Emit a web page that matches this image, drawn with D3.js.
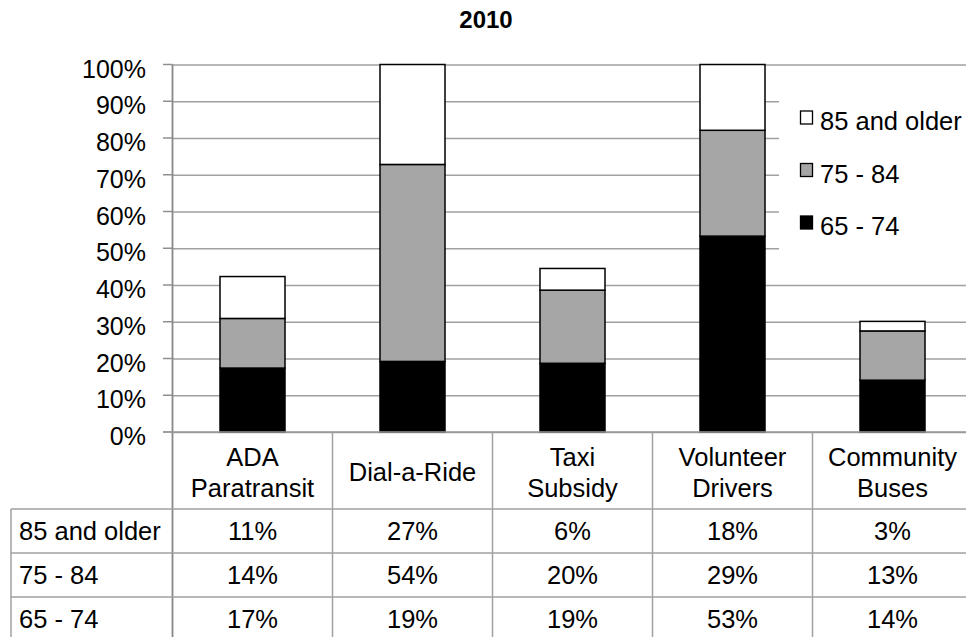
<!DOCTYPE html>
<html>
<head>
<meta charset="utf-8">
<script src="https://cdn.jsdelivr.net/npm/d3@7"></script>
<style>
  body { margin: 0; background: #fff; }
  svg { font-family: "Liberation Sans", Arial, sans-serif; }
</style>
</head>
<body>
<svg id="chart" width="966" height="637"></svg>
<script>
var categories = ["ADA Paratransit", "Dial-a-Ride", "Taxi Subsidy", "Volunteer Drivers", "Community Buses"];
var categoryLines = [["ADA", "Paratransit"], ["Dial-a-Ride"], ["Taxi", "Subsidy"], ["Volunteer", "Drivers"], ["Community", "Buses"]];
var seriesNames = ["65 - 74", "75 - 84", "85 and older"];
var age6574 = [0.174, 0.192, 0.187, 0.533, 0.141];
var age7584 = [0.135, 0.536, 0.199, 0.288, 0.134];
var age85up = [0.114, 0.272, 0.059, 0.179, 0.026];
var yTicks = [0, 0.1, 0.2, 0.3, 0.4, 0.5, 0.6, 0.7, 0.8, 0.9, 1.0];

var svg = d3.select("#chart");
var colours = {"65 - 74": "#000000", "75 - 84": "#a6a6a6", "85 and older": "#ffffff"};
var fontSize = 25.5;

var rows = categories.map((c, i) => ({
  category: c,
  "65 - 74": age6574[i],
  "75 - 84": age7584[i],
  "85 and older": age85up[i]
}));

var stacked = d3.stack().keys(seriesNames)(rows);

var plotLeft = 172.5, plotRight = 972.5;
var xScale = d3.scaleBand().domain(categories).range([plotLeft, plotRight]);
var yScale = d3.scaleLinear().domain([0, 1]).range([432, 64.5]);
var barWidth = 65;

// title
svg.append("text")
  .attr("x", 486)
  .attr("y", 28)
  .attr("text-anchor", "middle")
  .attr("font-weight", "bold")
  .attr("font-size", 24)
  .text("2010");

// gridlines + y axis
var yAxis = d3.axisLeft(yScale)
  .tickValues(yTicks)
  .tickFormat(d3.format(".0%"))
  .tickSize(-(plotRight - plotLeft))
  .tickPadding(0);

var yAxisG = svg.append("g")
  .attr("transform", `translate(${plotLeft},0)`)
  .call(yAxis);
yAxisG.select(".domain").remove();
yAxisG.selectAll(".tick line").attr("stroke", "#a0a0a0").attr("stroke-width", 1.3);
yAxisG.selectAll(".tick text")
  .attr("x", -26.5)
  .attr("dy", "0.5em")
  .attr("font-size", 25)
  .attr("fill", "#000");

// small tick marks left of axis
svg.append("g").selectAll("line").data(yTicks).join("line")
  .attr("x1", 163).attr("x2", plotLeft)
  .attr("y1", d => yScale(d)).attr("y2", d => yScale(d))
  .attr("stroke", "#909090").attr("stroke-width", 1.5);

// legend background covers gridlines
svg.append("rect")
  .attr("x", 779).attr("y", 86)
  .attr("width", 200).attr("height", 178)
  .attr("fill", "#fff");

// bars
svg.append("g").selectAll("g").data(stacked).join("g")
  .attr("fill", d => colours[d.key])
  .selectAll("rect").data(d => d).join("rect")
  .attr("x", d => xScale(d.data.category) + (xScale.bandwidth() - barWidth) / 2)
  .attr("width", barWidth)
  .attr("y", d => yScale(d[1]))
  .attr("height", d => yScale(d[0]) - yScale(d[1]))
  .attr("stroke", "#000")
  .attr("stroke-width", 1.5);

// axis line
svg.append("line")
  .attr("x1", plotLeft).attr("x2", plotLeft)
  .attr("y1", yScale(1)).attr("y2", 637)
  .attr("stroke", "#888").attr("stroke-width", 1.8);
svg.append("line")
  .attr("x1", 163).attr("x2", plotRight)
  .attr("y1", yScale(0)).attr("y2", yScale(0))
  .attr("stroke", "#999").attr("stroke-width", 1.5);

// legend
var legendItems = seriesNames.slice().reverse();
var legend = svg.append("g").selectAll("g").data(legendItems).join("g")
  .attr("transform", (d, i) => `translate(800,${130 + i * 52.5})`);
legend.append("rect")
  .attr("x", 0.5).attr("y", -19)
  .attr("width", 12).attr("height", 13)
  .attr("fill", d => colours[d])
  .attr("stroke", "#000").attr("stroke-width", 1.3);
legend.append("text")
  .attr("x", 20).attr("y", 0)
  .attr("font-size", fontSize)
  .text(d => d);

// data table
var tableTop = 432, headerBottom = 509, rowH = 44;
var tableLeft = 11;
var tableRows = [
  {name: "85 and older", values: age85up},
  {name: "75 - 84", values: age7584},
  {name: "65 - 74", values: age6574}
];
var table = svg.append("g");
var lineColour = "#a0a0a0";

// vertical dividers
table.selectAll(".vline").data(categories.slice(1)).join("line")
  .attr("class", "vline")
  .attr("x1", d => xScale(d)).attr("x2", d => xScale(d))
  .attr("y1", tableTop).attr("y2", 637)
  .attr("stroke", lineColour).attr("stroke-width", 1.5);
table.append("line")
  .attr("x1", tableLeft).attr("x2", tableLeft)
  .attr("y1", headerBottom).attr("y2", 637)
  .attr("stroke", lineColour).attr("stroke-width", 1.5);
// horizontal lines
table.selectAll(".hline").data(d3.range(3)).join("line")
  .attr("class", "hline")
  .attr("x1", tableLeft).attr("x2", plotRight)
  .attr("y1", d => headerBottom + d * rowH).attr("y2", d => headerBottom + d * rowH)
  .attr("stroke", lineColour).attr("stroke-width", 1.5);

// header labels
var header = table.selectAll(".head").data(categories).join("text")
  .attr("class", "head")
  .attr("text-anchor", "middle")
  .attr("font-size", fontSize)
  .attr("x", d => xScale(d) + xScale.bandwidth() / 2)
  .attr("y", (d, i) => categoryLines[i].length > 1 ? 466 : 481);
header.selectAll("tspan").data((d, i) => categoryLines[i]).join("tspan")
  .attr("x", function() { return this.parentNode.getAttribute("x"); })
  .attr("dy", (d, i) => i === 0 ? 0 : 31)
  .text(d => d);

var fmt = d3.format(".0%");
tableRows.forEach((r, ri) => {
  var cy = headerBottom + ri * rowH + 31;
  table.append("text")
    .attr("x", 19).attr("y", cy)
    .attr("font-size", fontSize)
    .text(r.name);
  table.selectAll(".cell" + ri).data(r.values).join("text")
    .attr("class", "cell" + ri)
    .attr("text-anchor", "middle")
    .attr("font-size", fontSize)
    .attr("x", (d, i) => xScale(categories[i]) + xScale.bandwidth() / 2)
    .attr("y", cy)
    .text(d => fmt(d));
});
</script>
</body>
</html>
